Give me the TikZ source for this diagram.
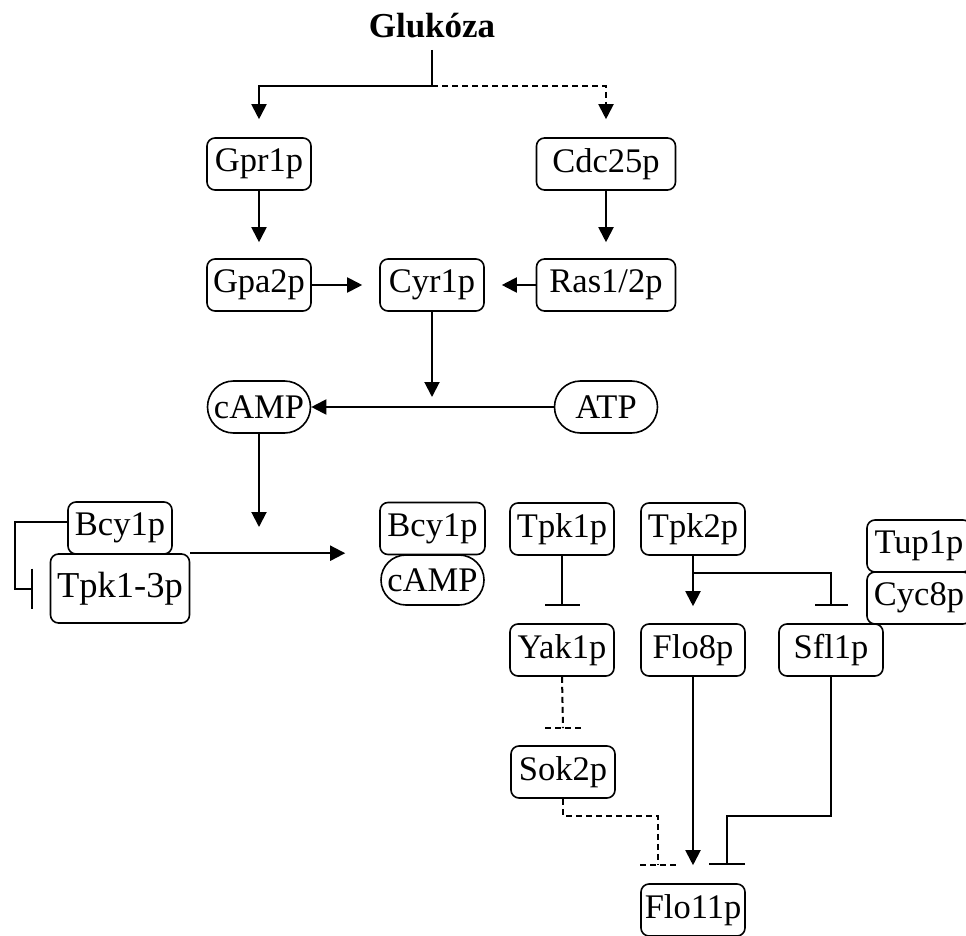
\documentclass[tikz,border=0pt]{standalone}
\usepackage{fontspec}
\setmainfont{Liberation Serif}
\usetikzlibrary{arrows.meta,shapes.misc}
\begin{document}
\begin{tikzpicture}[x=1pt,y=-1pt,
  every node/.style={font=\fontsize{34.5}{38}\selectfont},
  prot/.style={draw, line width=1.6pt, rounded corners=8pt, minimum width=104pt,
    minimum height=52pt, inner xsep=3pt, inner ysep=0pt},
  wideprot/.style={prot, minimum width=139pt},
  metab/.style={draw, line width=1.6pt, rounded rectangle, minimum width=105pt,
    minimum height=52pt, inner xsep=1pt, inner ysep=0pt},
  link/.style={line width=2pt},
  act/.style={link, -{Triangle[length=15pt,width=15pt]}},
  inh/.style={link, -{Bar[width=35pt]}},
  weak/.style={link, dash pattern=on 6pt off 4pt}
]
\useasboundingbox (0,0) rectangle (966,936);

% substrate at the top
\node[inner sep=0pt, anchor=base, font=\fontsize{35}{38}\selectfont\bfseries] (glu) at (432,38) {Glukóza};
\coordinate (gluout) at (432,50);
\coordinate (split) at (432,86);

% receptor / exchange factor level
\node[prot] (gpr) at (259,164) {Gpr1p};
\node[wideprot] (cdc) at (606,164) {Cdc25p};

% G proteins and adenylate cyclase
\node[prot] (gpa) at (259,285) {Gpa2p};
\node[prot] (cyr) at (432,285) {Cyr1p};
\node[wideprot] (ras) at (606,285) {Ras1/2p};

% nucleotides
\node[metab] (camp) at (259,407) {cAMP};
\node[metab] (atp) at (606,407) {ATP};
\coordinate (cyrmid) at (432,407);

% PKA holoenzyme and its dissociation
\node[prot] (bcyL) at (120,528) {Bcy1p};
\node[wideprot, minimum height=69pt, font=\fontsize{36.5}{40}\selectfont] (tpk13) at (120,588.5) {Tpk1-3p};
\node[prot, minimum width=105pt] (bcyR) at (432.5,528.5) {Bcy1p};
\node[metab, minimum height=50pt] (campR) at (432.5,580) {cAMP};
\coordinate (campdown) at (259,553);

% catalytic subunits and their targets
\node[prot] (tpk1) at (562,529) {Tpk1p};
\node[prot] (tpk2) at (693,529) {Tpk2p};
\node[prot] (tup) at (919,546) {Tup1p};
\node[prot] (cyc) at (919,598) {Cyc8p};
\node[prot] (yak) at (562,650) {Yak1p};
\node[prot] (flo8) at (693,650) {Flo8p};
\node[prot] (sfl) at (831,650) {Sfl1p};
\node[prot] (sok) at (563,772) {Sok2p};
\node[prot] (flo11) at (693,910) {Flo11p};

% glucose sensing branches
\draw[link] (gluout) -- (split);
\draw[act, shorten >=18pt] (split) -| (gpr.north);
\draw[act, weak, shorten >=18pt] (split) -| (cdc.north);
\draw[act, shorten >=16pt] (gpr.south) -- (gpa.north);
\draw[act, shorten >=16pt] (cdc.south) -- (ras.north);
\draw[act, shorten >=17pt] (gpa.east) -- (cyr.west);
\draw[act, shorten >=17pt] (ras.west) -- (cyr.east);

% cAMP synthesis
\draw[act, shorten >=10pt] (cyr.south) -- (cyrmid);
\draw[act] (atp.west) -- (camp.east);
\draw[act, shorten >=26pt] (camp.south) -- (campdown);

% release of the catalytic subunits
\draw[act, shorten >=34pt] (tpk13.north east) -- (tpk13.north east -| bcyR.west);
\draw[inh, -{Bar[width=40pt]}] (bcyL.west) ++(0,-6) -- ++(-52,0) |- ([xshift=-17pt]tpk13.west);

% downstream kinases
\draw[inh, shorten >=17pt] (tpk1.south) -- (yak.north);
\draw[act, shorten >=17pt] (tpk2.south) -- (flo8.north);
\draw[inh, -{Bar[width=33pt]}, shorten >=17pt] ([yshift=-17pt]tpk2.south) -| (sfl.north);

% Yak1p -| Sok2p (dashed)
\coordinate (yb) at ([yshift=17pt]sok.north);
\draw[weak] (yak.south) -- (yb);
\draw[weak] ([xshift=-18pt]yb) -- ([xshift=18pt]yb);

% regulation of Flo11p
\coordinate (sb) at ([xshift=-35pt,yshift=18pt]flo11.north);
\draw[weak] (sok.south) -- ++(0,17) -| (sb);
\draw[weak] ([xshift=-18pt]sb) -- ([xshift=19pt]sb);
\draw[act, shorten >=18pt] (flo8.south) -- (flo11.north);
\draw[inh, -{Bar[width=36pt]}, shorten >=18pt] (sfl.south) -- ++(0,139) -| ([xshift=34pt]flo11.north);
\end{tikzpicture}
\end{document}
